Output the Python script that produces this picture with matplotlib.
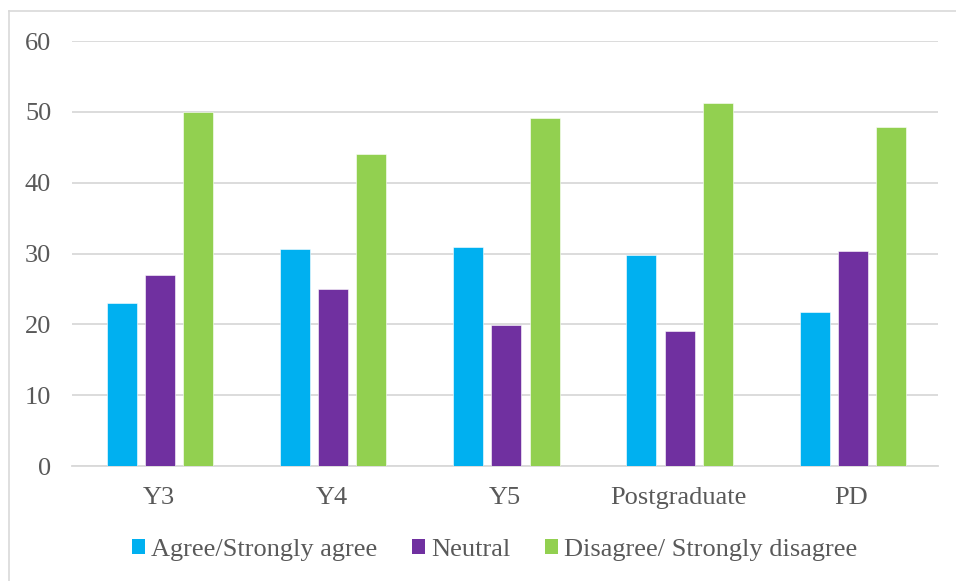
import matplotlib
matplotlib.use("Agg")
import matplotlib.pyplot as plt
from matplotlib.patches import Patch
from matplotlib.lines import Line2D
import numpy as np

categories = ["Y3", "Y4", "Y5", "Postgraduate", "PD"]
agree = [23.0, 30.6, 30.9, 29.8, 21.7]
neutral = [27.0, 25.0, 19.9, 19.0, 30.4]
disagree = [50.0, 44.0, 49.1, 51.2, 47.8]
series_names = ["Agree/Strongly agree", "Neutral", "Disagree/ Strongly disagree"]
colors = ["#00B0F0", "#7030A0", "#92D050"]
y_ticks = [0, 10, 20, 30, 40, 50, 60]

text_color = "#595959"
grid_color = "#D9D9D9"
plt.rcParams["font.family"] = ["Liberation Serif", "DejaVu Serif"]
fs = 19

fig = plt.figure(figsize=(9.56, 5.81), dpi=100)
ax = fig.add_axes([0.0753, 0.1979, 0.9059, 0.7315])

x = np.arange(len(categories))
width = 0.173
step = 0.221
for i, (vals, name, c) in enumerate(zip([agree, neutral, disagree], series_names, colors)):
    ax.bar(x + (i - 1) * step + 0.008, vals, width=width, color=c, label=name,
           zorder=3, edgecolor="white", linewidth=0.4)

ax.set_xlim(-0.5, len(categories) - 0.5)
ax.set_ylim(0, 60)
ax.set_yticks(y_ticks)
ax.yaxis.grid(True, color=grid_color, linewidth=1.3, zorder=0)
ax.set_axisbelow(True)
for s in ["left", "right", "top"]:
    ax.spines[s].set_visible(False)
ax.spines["bottom"].set_color(grid_color)
ax.spines["bottom"].set_linewidth(1.3)

ax.set_xticks(x)
ax.set_xticklabels(categories)
ax.tick_params(axis="both", length=0, labelcolor=text_color, labelsize=fs)
ax.tick_params(axis="y", pad=15)
ax.tick_params(axis="x", pad=15)

handles = [Patch(facecolor=c, edgecolor="none") for c in colors]
leg = fig.legend(handles, series_names, loc="center", bbox_to_anchor=(0.5176, 0.0534),
                 ncol=3, frameon=False, handlelength=0.47, handleheight=0.47,
                 handletextpad=0.25, columnspacing=1.32, fontsize=fs)
for t in leg.get_texts():
    t.set_color(text_color)

# outer chart border (left and top edges)
fig.add_artist(Line2D([8.5 / 956, 8.5 / 956], [0, 1 - 11 / 581], transform=fig.transFigure,
                      color=grid_color, linewidth=1.2))
fig.add_artist(Line2D([8.5 / 956, 1], [1 - 11 / 581, 1 - 11 / 581], transform=fig.transFigure,
                      color=grid_color, linewidth=1.2))

fig.savefig("out.png", dpi=100)
